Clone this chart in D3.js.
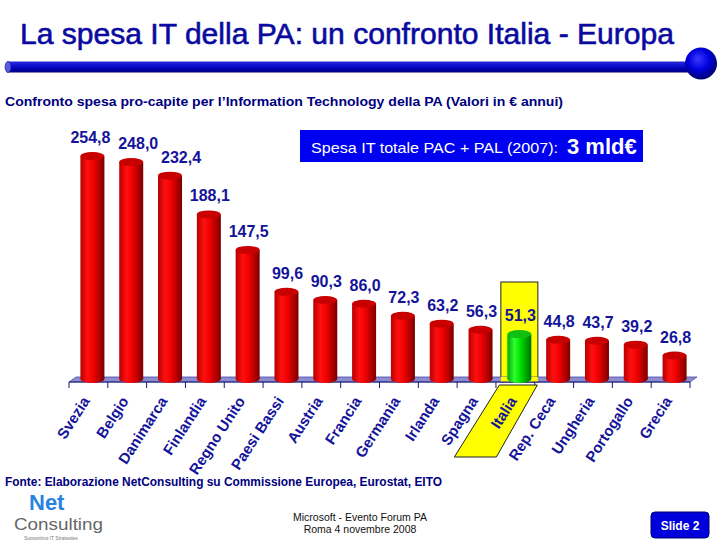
<!DOCTYPE html>
<html>
<head>
<meta charset="utf-8">
<script src="https://cdn.jsdelivr.net/npm/d3@7/dist/d3.min.js"></script>
<style>
  html, body { margin: 0; padding: 0; background: #fff; }
  svg { display: block; font-family: "Liberation Sans", Arial, sans-serif; }
</style>
</head>
<body>
<svg id="chart" width="720" height="540"></svg>
<script>
// ---- data ----
const countries = ["Svezia","Belgio","Danimarca","Finlandia","Regno Unito","Paesi Bassi","Austria","Francia","Germania","Irlanda","Spagna","Italia","Rep. Ceca","Ungheria","Portogallo","Grecia"];
const values = [254.8, 248.0, 232.4, 188.1, 147.5, 99.6, 90.3, 86.0, 72.3, 63.2, 56.3, 51.3, 44.8, 43.7, 39.2, 26.8];
const highlight = ["Italia"];
const titleText = "La spesa IT della PA: un confronto Italia - Europa";
const subtitleText = "Confronto spesa pro-capite per l\u2019Information Technology della PA (Valori in \u20ac annui)";
const boxText = "Spesa IT totale PAC + PAL (2007):";
const boxValue = "3 mld\u20ac";
const sourceText = "Fonte: Elaborazione NetConsulting su Commissione Europea, Eurostat, EITO";
const footerLines = ["Microsoft - Evento Forum PA", "Roma 4 novembre 2008"];
const slideText = "Slide 2";

const fmt = v => d3.format(".1f")(v).replace(".", ",");

const svg = d3.select("#chart");
const defs = svg.append("defs");
const navy = "#14149a";

// gradients
function hGrad(id, stops) {
  const g = defs.append("linearGradient").attr("id", id).attr("x1", "0%").attr("x2", "100%").attr("y1", "0%").attr("y2", "0%");
  stops.forEach(s => g.append("stop").attr("offset", s[0]).attr("stop-color", s[1]));
}
hGrad("redCyl", [["0%", "#b80000"], ["30%", "#ff1010"], ["55%", "#f00000"], ["100%", "#7a0000"]]);
hGrad("greenCyl", [["0%", "#00a800"], ["30%", "#30ff30"], ["55%", "#00e000"], ["100%", "#007000"]]);
const vg = defs.append("linearGradient").attr("id", "rule").attr("x1", "0%").attr("x2", "0%").attr("y1", "0%").attr("y2", "100%");
[["0%", "#2a2ad8"], ["35%", "#1010d0"], ["70%", "#0000b0"], ["100%", "#00007a"]].forEach(s => vg.append("stop").attr("offset", s[0]).attr("stop-color", s[1]));
const rg = defs.append("radialGradient").attr("id", "sphere").attr("cx", "45%").attr("cy", "40%").attr("r", "60%").attr("fx", "40%").attr("fy", "35%");
[["0%", "#3a3aff"], ["55%", "#0000dd"], ["100%", "#000070"]].forEach(s => rg.append("stop").attr("offset", s[0]).attr("stop-color", s[1]));

// ---- header ----
svg.append("text").attr("x", 20).attr("y", 44).attr("font-size", 30).attr("fill", "#0a0aa0")
  .attr("stroke", "#0a0aa0").attr("stroke-width", 0.6)
  .attr("textLength", 654).attr("lengthAdjust", "spacingAndGlyphs")
  .text(titleText);
svg.append("rect").attr("x", 7).attr("y", 61.5).attr("width", 686).attr("height", 11).attr("fill", "url(#rule)");
svg.append("ellipse").attr("cx", 8).attr("cy", 67).attr("rx", 3).attr("ry", 5.5).attr("fill", "#5a5ae0").attr("stroke", "#1a1a90").attr("stroke-width", 0.6);
svg.append("circle").attr("cx", 701).attr("cy", 63.5).attr("r", 16).attr("fill", "url(#sphere)");

svg.append("text").attr("x", 5).attr("y", 106).attr("font-size", 12.5).attr("font-weight", "bold").attr("fill", "#000080")
  .attr("textLength", 558).attr("lengthAdjust", "spacingAndGlyphs")
  .text(subtitleText);

// ---- chart geometry ----
const x0 = 69, x1 = 690, floorY = 382, depth = 5;
const x = d3.scaleBand().domain(countries).range([x0, x1]).paddingInner(0).paddingOuter(0);
const y = d3.scaleLinear().domain([0, 260]).range([379, 379 - 227.5]);
const barW = 24, ry = 4, shift = 4;
const cx = c => x(c) + x.bandwidth() / 2 + shift;

// Italia highlight (back part)
highlight.forEach(c => {
  const xc = cx(c);
  svg.append("rect").attr("x", xc - 18.5).attr("y", 282).attr("width", 37).attr("height", floorY - 282)
    .attr("fill", "#ffff00").attr("stroke", "#222").attr("stroke-width", 1);
});

// floor
svg.append("polygon")
  .attr("points", [[x0, floorY], [x1, floorY], [x1 + 7, floorY - depth], [x0 + 7, floorY - depth]].map(p => p.join(",")).join(" "))
  .attr("fill", "#8c8cd0").attr("stroke", "#4a4aa8").attr("stroke-width", 0.8);

highlight.forEach(c => {
  const xc = cx(c);
  svg.append("rect").attr("x", xc - 18.5).attr("y", floorY - depth).attr("width", 37).attr("height", depth)
    .attr("fill", "#ffff00").attr("stroke", "none");
});

// axis line and ticks
svg.append("line").attr("x1", x0).attr("x2", x1).attr("y1", floorY).attr("y2", floorY).attr("stroke", "#1a1a70").attr("stroke-width", 1);
const tickXs = countries.map(c => x(c)).concat([x1]);
svg.selectAll("line.tick").data(tickXs).enter().append("line").attr("class", "tick")
  .attr("x1", d => d).attr("x2", d => d).attr("y1", floorY).attr("y2", floorY + 6)
  .attr("stroke", "#1a1a70").attr("stroke-width", 1);

// bars (cylinders)
const bars = svg.selectAll("g.bar").data(countries.map((c, i) => ({ c, v: values[i] }))).enter().append("g").attr("class", "bar");
bars.each(function (d) {
  const g = d3.select(this);
  const isH = highlight.includes(d.c);
  const fill = isH ? "url(#greenCyl)" : "url(#redCyl)";
  const topFill = isH ? "#10c010" : "#c80000";
  const xc = cx(d.c), yt = y(d.v), yb = y(0);
  g.append("ellipse").attr("cx", xc).attr("cy", yb).attr("rx", barW / 2).attr("ry", ry).attr("fill", fill);
  g.append("rect").attr("x", xc - barW / 2).attr("y", yt).attr("width", barW).attr("height", yb - yt).attr("fill", fill);
  g.append("ellipse").attr("cx", xc).attr("cy", yt).attr("rx", barW / 2).attr("ry", ry).attr("fill", topFill);
});

// value labels
const nudge = { 0: -3, 1: 6, 2: 10 };
svg.selectAll("text.val").data(values).enter().append("text").attr("class", "val")
  .attr("x", (d, i) => cx(countries[i]) + (nudge[i] || 0) + 1)
  .attr("y", d => y(d) - 13)
  .attr("text-anchor", "middle").attr("font-size", 16).attr("font-weight", "bold").attr("fill", navy)
  .text(d => fmt(d));

// Italia highlight front parallelogram
highlight.forEach(c => {
  const xc = cx(c);
  const pts = [[xc - 20, floorY + 3], [xc + 18, floorY + 3], [xc - 23, 457], [xc - 65, 457]];
  svg.append("polygon").attr("points", pts.map(p => p.join(",")).join(" "))
    .attr("fill", "#ffff00").attr("stroke", "#222").attr("stroke-width", 1);
});

// category labels
svg.selectAll("text.cat").data(countries).enter().append("text").attr("class", "cat")
  .attr("transform", c => `translate(${cx(c) - 2},${401}) rotate(-57)`)
  .attr("text-anchor", "end").attr("font-size", 15).attr("font-weight", "bold").attr("fill", navy)
  .text(c => c);

// info box
svg.append("rect").attr("x", 300).attr("y", 130).attr("width", 343).attr("height", 32).attr("fill", "#0000f0");
svg.append("text").attr("x", 311).attr("y", 153).attr("fill", "#fff").attr("font-size", 14.5)
  .attr("textLength", 247).attr("lengthAdjust", "spacingAndGlyphs").text(boxText);
svg.append("text").attr("x", 567).attr("y", 154).attr("fill", "#fff").attr("font-size", 22).attr("font-weight", "bold").text(boxValue);

// source
svg.append("text").attr("x", 5).attr("y", 486).attr("font-size", 12).attr("font-weight", "bold").attr("fill", "#000080")
  .attr("textLength", 437).attr("lengthAdjust", "spacingAndGlyphs")
  .text(sourceText);

// footer logo
svg.append("text").attr("x", 29).attr("y", 510).attr("font-size", 22).attr("font-weight", "bold").attr("fill", "#2a82e0").text("Net");
svg.append("text").attr("x", 14).attr("y", 530).attr("font-size", 17).attr("fill", "#666")
  .attr("textLength", 89).attr("lengthAdjust", "spacingAndGlyphs").text("Consulting");
svg.append("text").attr("x", 24).attr("y", 539.5).attr("font-size", 5).attr("fill", "#777").text("Supporting IT Strategies");

// footer center
svg.selectAll("text.foot").data(footerLines).enter().append("text").attr("class", "foot")
  .attr("x", 360).attr("y", (d, i) => 521 + i * 12).attr("text-anchor", "middle").attr("font-size", 10.5).attr("fill", "#111")
  .text(d => d);

// slide button
svg.append("rect").attr("x", 651).attr("y", 512).attr("width", 58).attr("height", 26).attr("rx", 4).attr("fill", "#0000dd").attr("stroke", "#000066").attr("stroke-width", 1);
svg.append("text").attr("x", 680).attr("y", 530).attr("text-anchor", "middle").attr("font-size", 12).attr("font-weight", "bold").attr("fill", "#fff").text(slideText);
</script>
</body>
</html>
